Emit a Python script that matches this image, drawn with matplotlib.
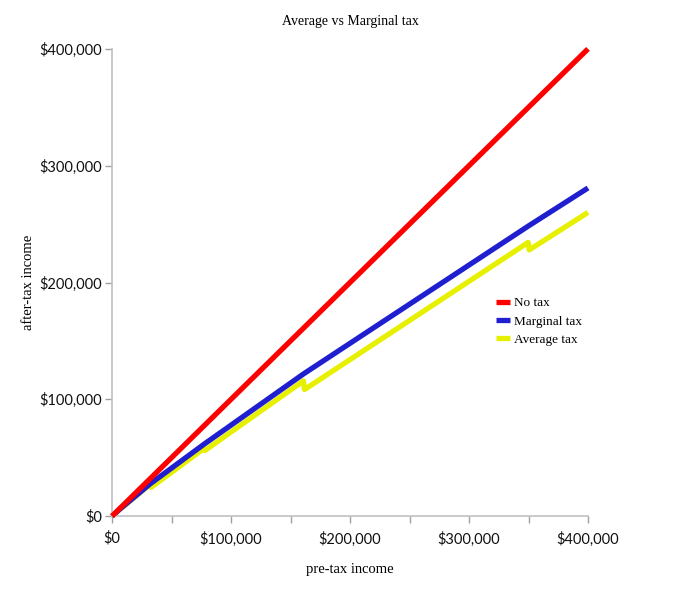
import matplotlib.pyplot as plt
from matplotlib.ticker import FuncFormatter, MultipleLocator

# Break points (pre-tax income -> after-tax income)
no_tax_x = [0, 400000]
no_tax_y = [0, 400000]

marginal_x = [0, 7825, 31850, 77100, 160850, 349700, 400000]
marginal_y = [0, 7043, 27464, 61401, 121701, 248231, 280926]

average_x = [0, 7825, 8800, 31850, 32800, 77100, 78000,
             160850, 161800, 349700, 350600, 400000]
average_y = [0, 7043, 7480, 27072, 24600, 57825, 56160,
             115812, 108400, 234299, 227890, 260000]

fig = plt.figure(figsize=(7, 5.96), dpi=100)
ax = fig.add_axes([0.16, 0.134, 0.68, 0.784])

lw = 3.8
ax.plot(no_tax_x, no_tax_y, color='#ff0000', lw=lw, label='No tax',
        solid_capstyle='butt', clip_on=False, zorder=3)
ax.plot(marginal_x, marginal_y, color='#1f1fcf', lw=lw, label='Marginal tax',
        solid_capstyle='butt', clip_on=False, zorder=2)
ax.plot(average_x, average_y, color='#e6f000', lw=lw, label='Average tax',
        solid_capstyle='butt', clip_on=False, zorder=1)

ax.set_xlim(0, 400000)
ax.set_ylim(0, 400000)

fmt = FuncFormatter(lambda v, p: f'${v:,.0f}')
ax.xaxis.set_major_locator(MultipleLocator(100000))
ax.xaxis.set_minor_locator(MultipleLocator(50000))
ax.yaxis.set_major_locator(MultipleLocator(100000))
ax.xaxis.set_major_formatter(fmt)
ax.yaxis.set_major_formatter(fmt)

for side in ['top', 'right']:
    ax.spines[side].set_visible(False)
for side in ['left', 'bottom']:
    ax.spines[side].set_color('#c0c0c0')
    ax.spines[side].set_linewidth(1.2)

ax.tick_params(which='both', direction='out', color='#a0a0a0', length=5, width=1)
ax.tick_params(axis='both', labelsize=10.5, labelcolor='#111111')
ax.tick_params(axis='x', pad=6)
ax.tick_params(axis='y', pad=2)
for lab in ax.get_xticklabels() + ax.get_yticklabels():
    lab.set_family(['Lato', 'DejaVu Sans'])

serif = ['Liberation Serif', 'DejaVu Serif']
ax.set_title('Average vs Marginal tax', family=serif, fontsize=10, pad=17)
ax.set_xlabel('pre-tax income', family=serif, fontsize=10.5, labelpad=12)
ax.set_ylabel('after-tax income', family=serif, fontsize=10.5, labelpad=3)

leg = ax.legend(loc='upper left', bbox_to_anchor=(0.795, 0.48), frameon=False,
                prop={'family': serif, 'size': 9.5}, handlelength=1.1,
                handletextpad=0.3, labelspacing=0.45, borderaxespad=0)

fig.savefig('out.png', dpi=100)
